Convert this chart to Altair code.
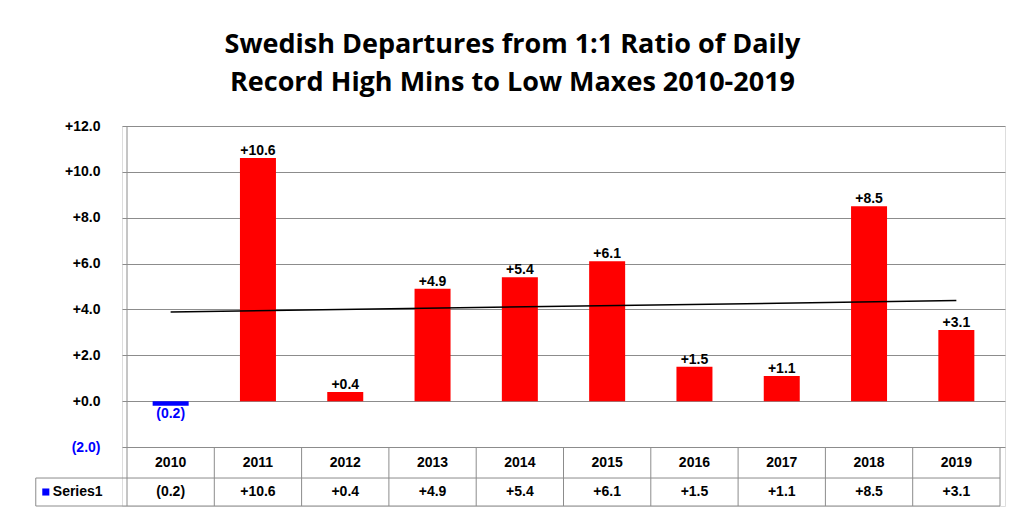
import altair as alt
import numpy as np
import pandas as pd

years = ["2010", "2011", "2012", "2013", "2014", "2015", "2016", "2017", "2018", "2019"]
values = [-0.2, 10.6, 0.4, 4.9, 5.4, 6.1, 1.5, 1.1, 8.5, 3.1]

Y_ROW1 = -2.0
Y_ROW2 = -3.35
Y_BOTTOM = -4.57


def fmt(v):
    return f"({abs(v):.1f})" if v < 0 else f"+{v:.1f}"


def xq(field):
    return alt.X(f"{field}:Q", scale=alt.Scale(domain=[0, 10], nice=False), axis=None)


df = pd.DataFrame({"Year": years, "Value": values})
df["xc"] = np.arange(len(years)) + 0.5
df["Label"] = [fmt(v) for v in values]
df["Color"] = ["blue" if v < 0 else "red" for v in values]
df["LabelY"] = [v - 0.35 if v < 0 else v + 0.3 for v in values]
df["Base"] = 0.0
df["Row1"] = (Y_ROW1 + Y_ROW2) / 2
df["Row2"] = (Y_ROW2 + Y_BOTTOM) / 2

slope, intercept = np.polyfit(np.arange(len(values)), values, 1)
trend = pd.DataFrame({"xc": [0.5, len(values) - 0.5]})
trend["y"] = slope * (trend["xc"] - 0.5) + intercept

yscale = alt.Scale(domain=[Y_BOTTOM, 12], nice=False)

base = alt.Chart(df)

bars = base.mark_bar(size=36).encode(
    x=xq("xc"),
    y=alt.Y(
        "Value:Q",
        scale=yscale,
        title=None,
        axis=alt.Axis(
            values=list(range(-2, 13, 2)),
            labelExpr="datum.value < 0 ? '(' + format(-datum.value, '.1f') + ')' : '+' + format(datum.value, '.1f')",
            labelColor={"condition": {"test": "datum.value < 0", "value": "blue"}, "value": "black"},
            labelFontWeight="bold",
            labelFontSize=14,
            labelPadding=22,
            domain=False,
            ticks=False,
            grid=True,
            gridColor="#8c8c8c",
            gridOpacity=1,
        ),
    ),
    y2="Base:Q",
    color=alt.Color("Color:N", scale=None),
)

bar_labels = base.mark_text(fontSize=14, fontWeight="bold").encode(
    x=xq("xc"),
    y=alt.Y("LabelY:Q", scale=yscale),
    text="Label:N",
    color=alt.Color("Color:N", scale=alt.Scale(domain=["red", "blue"], range=["black", "blue"]), legend=None),
)

trend_line = alt.Chart(trend).mark_line(color="black", strokeWidth=1.5).encode(
    x=xq("xc"), y=alt.Y("y:Q", scale=yscale)
)

# data table below the plot
vlines = pd.DataFrame({"xv": list(range(0, 11)), "y1": Y_ROW1, "y2": Y_BOTTOM})
vlines.loc[0, "y1"] = 12
vrules = alt.Chart(vlines).mark_rule(color="#8c8c8c").encode(
    x=xq("xv"), y=alt.Y("y1:Q", scale=yscale), y2="y2:Q"
)
hlines = pd.DataFrame({"x1": [-1.045, -1.045], "x2": [10, 10], "yh": [Y_ROW2, Y_BOTTOM]})
hrules = alt.Chart(hlines).mark_rule(color="#8c8c8c").encode(
    x=xq("x1"), x2="x2:Q", y=alt.Y("yh:Q", scale=yscale)
)
left_edge = alt.Chart(pd.DataFrame({"xl": [-1.045], "y1": [Y_ROW2], "y2": [Y_BOTTOM]})).mark_rule(
    color="#8c8c8c"
).encode(x=xq("xl"), y=alt.Y("y1:Q", scale=yscale), y2="y2:Q")

year_text = base.mark_text(fontSize=14, fontWeight="bold").encode(
    x=xq("xc"), y=alt.Y("Row1:Q", scale=yscale), text="Year:N"
)
value_text = base.mark_text(fontSize=14, fontWeight="bold").encode(
    x=xq("xc"), y=alt.Y("Row2:Q", scale=yscale), text="Label:N"
)
legend_df = pd.DataFrame({"xs": [-0.93], "xt": [-0.85], "y": [(Y_ROW2 + Y_BOTTOM) / 2], "t": ["Series1"]})
legend_sq = alt.Chart(legend_df).mark_square(size=50, color="blue", opacity=1).encode(
    x=xq("xs"), y=alt.Y("y:Q", scale=yscale)
)
legend_txt = alt.Chart(legend_df).mark_text(fontSize=14, fontWeight="bold", align="left").encode(
    x=xq("xt"), y=alt.Y("y:Q", scale=yscale), text="t:N"
)

chart = (
    alt.layer(bars, trend_line, bar_labels, vrules, hrules, left_edge, year_text, value_text, legend_sq, legend_txt)
    .properties(
        width=883,
        height=380,
        padding={"left": 114, "top": 118, "right": 11, "bottom": 5},
        autosize=alt.AutoSizeParams(type="none"),
        title=alt.TitleParams(
            ["Swedish Departures from 1:1 Ratio of Daily", "Record High Mins to Low Maxes 2010-2019"],
            fontSize=27,
            fontWeight="bold",
            font="Open Sans",
            dx=-51,
            offset=22,
            lineHeight=38,
        ),
    )
    .configure_view(stroke=None, clip=False)
    .configure_text(font="Open Sans")
    .configure_axis(labelFont="Open Sans")
    .configure(background="white")
)

chart.save("out.html", embed_options={"renderer": "svg", "actions": False})
